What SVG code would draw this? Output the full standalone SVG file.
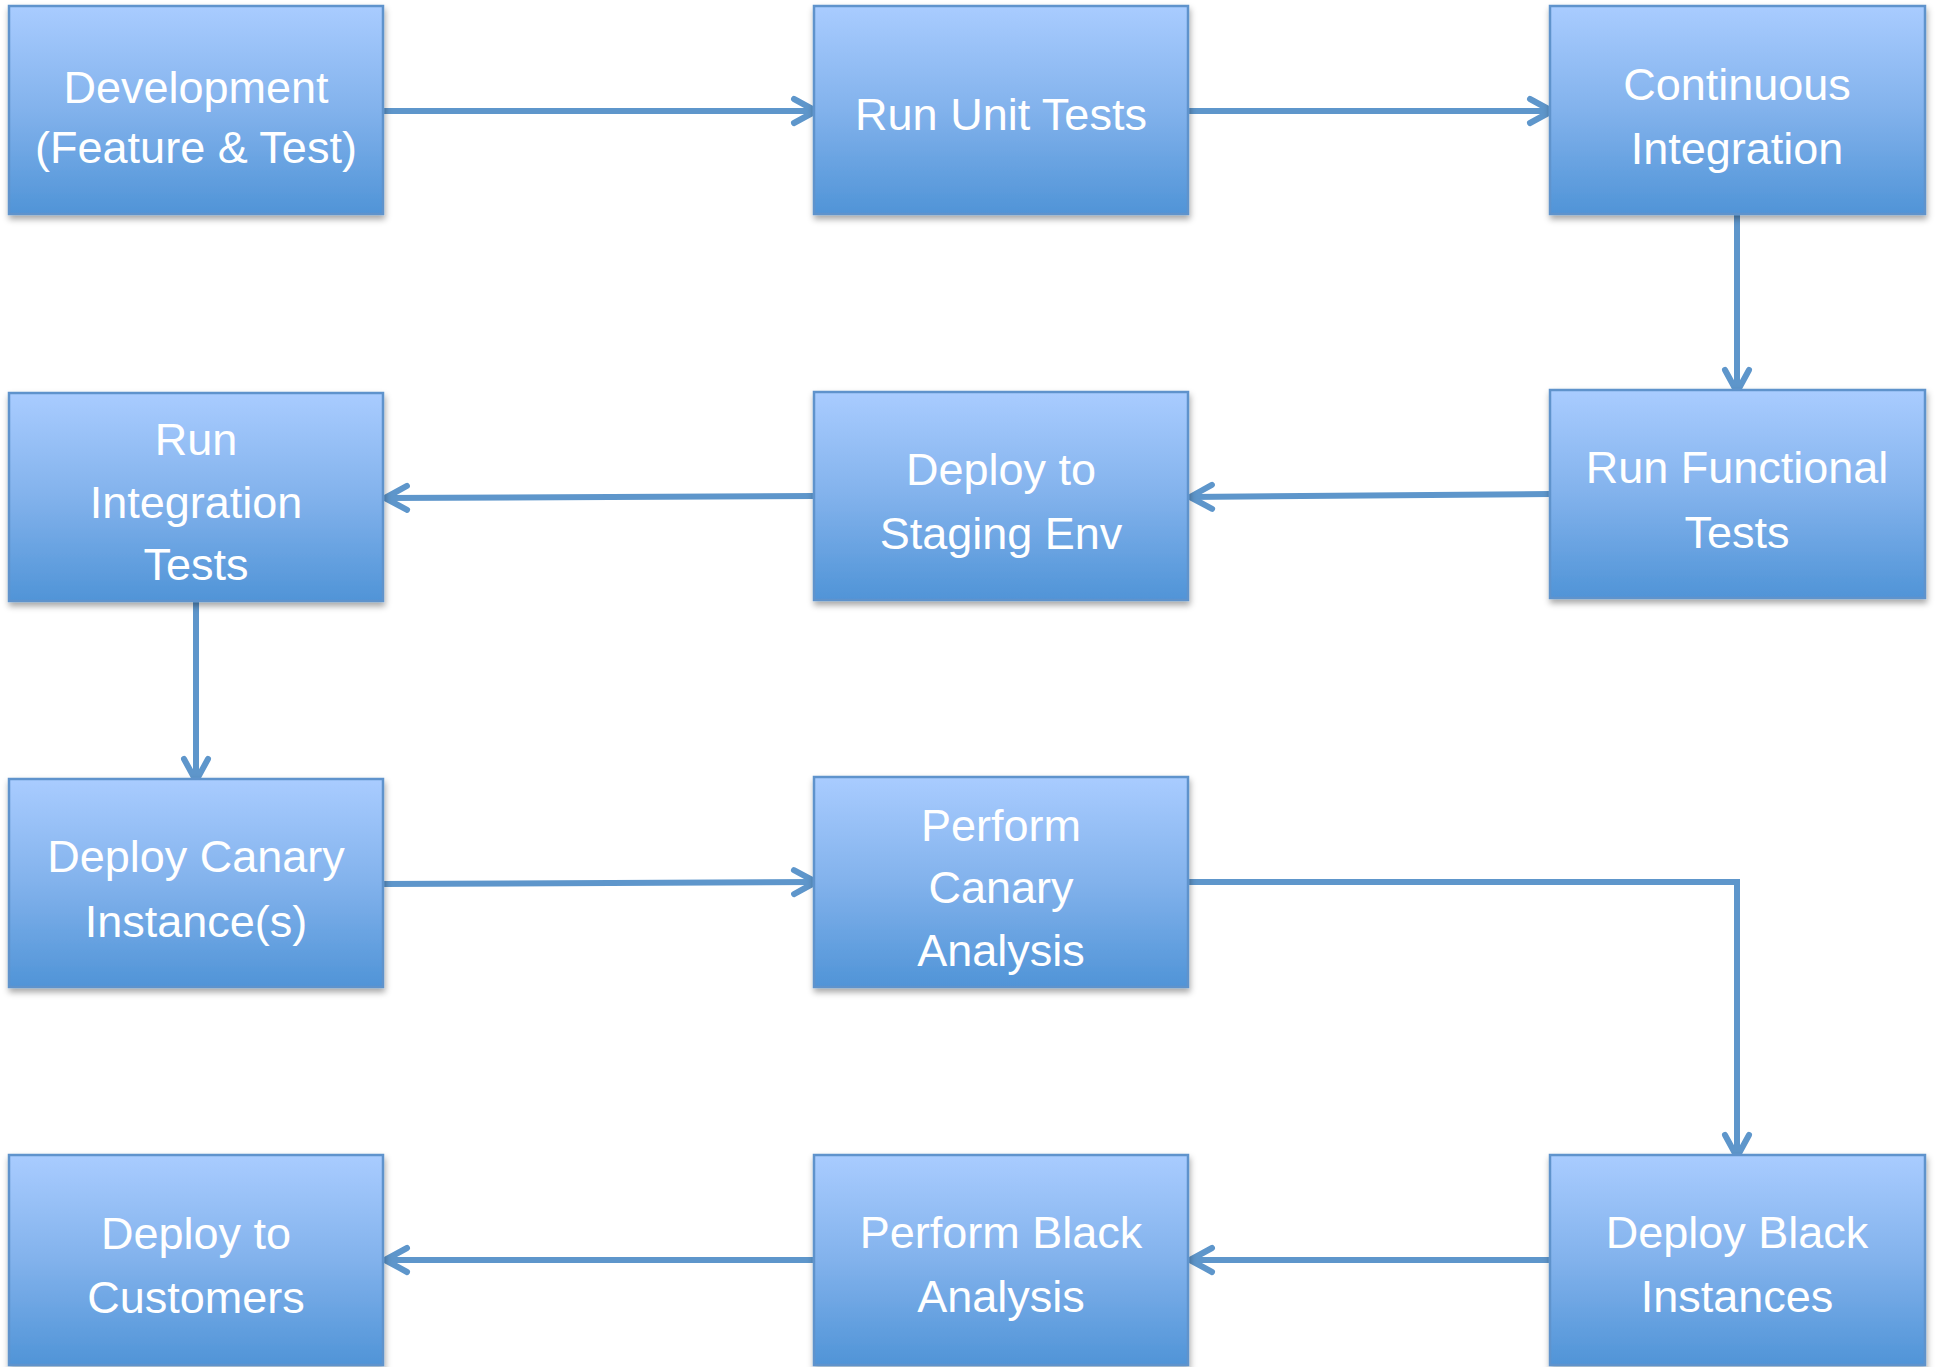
<svg xmlns="http://www.w3.org/2000/svg" width="1935" height="1367" viewBox="0 0 1935 1367">
<defs>
<linearGradient id="g" x1="0" y1="0" x2="0" y2="1">
<stop offset="0" stop-color="#a9ccff"/>
<stop offset="0.5" stop-color="#82b2ec"/>
<stop offset="1" stop-color="#5094d7"/>
</linearGradient>
<filter id="sh" x="-5%" y="-5%" width="112%" height="115%">
<feDropShadow dx="1" dy="4" stdDeviation="3" flood-color="#000" flood-opacity="0.35"/>
</filter>
<marker id="arr" markerUnits="userSpaceOnUse" viewBox="-30 -20 40 40" markerWidth="40" markerHeight="40" refX="0" refY="0" orient="auto" overflow="visible">
<path d="M-22,-12 L0,0 L-22,12" fill="none" stroke="#5e96cb" stroke-width="6" stroke-linecap="round" stroke-linejoin="round"/>
</marker>
</defs>
<style>
.box{fill:url(#g);stroke:#5f93cc;stroke-width:2.5;filter:url(#sh)}
.t{font-family:"Liberation Sans",Arial,sans-serif;font-size:45px;fill:#fff;text-anchor:middle}
.c{fill:none;stroke:#5e96cb;stroke-width:6;marker-end:url(#arr)}
</style>
<rect width="1935" height="1367" fill="#fff"/>
<g id="connectors">
<path class="c" d="M383,111 L816,111"/>
<path class="c" d="M1188,111 L1552,111"/>
<path class="c" d="M1737,215 L1737,392"/>
<path class="c" d="M1550,494 L1190,497"/>
<path class="c" d="M814,496 L385,498"/>
<path class="c" d="M196,601 L196,781"/>
<path class="c" d="M383,884 L816,882"/>
<path class="c" d="M1188,882 L1737,882 L1737,1157"/>
<path class="c" d="M1550,1260 L1190,1260"/>
<path class="c" d="M814,1260 L385,1260"/>
</g>
<g id="n1"><rect class="box" x="9" y="6" width="374" height="208"/><text class="t" x="196" y="103">Development</text><text class="t" x="196" y="163">(Feature &amp; Test)</text></g>
<g id="n2"><rect class="box" x="814" y="6" width="374" height="208"/><text class="t" x="1001" y="130">Run Unit Tests</text></g>
<g id="n3"><rect class="box" x="1550" y="6" width="375" height="208"/><text class="t" x="1737" y="100">Continuous</text><text class="t" x="1737" y="164">Integration</text></g>
<g id="n4"><rect class="box" x="1550" y="390" width="375" height="208"/><text class="t" x="1737" y="483">Run Functional</text><text class="t" x="1737" y="548">Tests</text></g>
<g id="n5"><rect class="box" x="814" y="392" width="374" height="208"/><text class="t" x="1001" y="485">Deploy to</text><text class="t" x="1001" y="549">Staging Env</text></g>
<g id="n6"><rect class="box" x="9" y="393" width="374" height="208"/><text class="t" x="196" y="455">Run</text><text class="t" x="196" y="518">Integration</text><text class="t" x="196" y="580">Tests</text></g>
<g id="n7"><rect class="box" x="9" y="779" width="374" height="208"/><text class="t" x="196" y="872">Deploy Canary</text><text class="t" x="196" y="937">Instance(s)</text></g>
<g id="n8"><rect class="box" x="814" y="777" width="374" height="210"/><text class="t" x="1001" y="841">Perform</text><text class="t" x="1001" y="903">Canary</text><text class="t" x="1001" y="966">Analysis</text></g>
<g id="n9"><rect class="box" x="1550" y="1155" width="375" height="210"/><text class="t" x="1737" y="1248">Deploy Black</text><text class="t" x="1737" y="1312">Instances</text></g>
<g id="n10"><rect class="box" x="814" y="1155" width="374" height="210"/><text class="t" x="1001" y="1248">Perform Black</text><text class="t" x="1001" y="1312">Analysis</text></g>
<g id="n11"><rect class="box" x="9" y="1155" width="374" height="210"/><text class="t" x="196" y="1249">Deploy to</text><text class="t" x="196" y="1313">Customers</text></g>
</svg>
